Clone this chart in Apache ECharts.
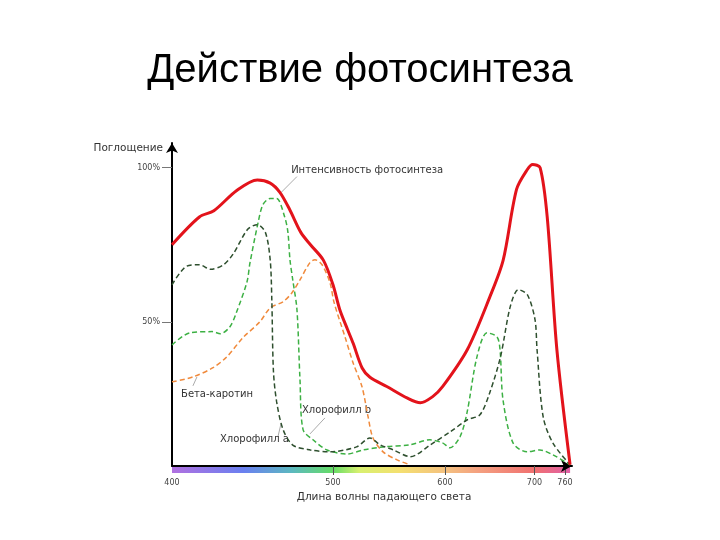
<!DOCTYPE html>
<html lang="ru">
<head>
    <meta charset="UTF-8">
    <title>Действие фотосинтеза</title>
    <script type="text/javascript" src="https://cdn.jsdelivr.net/npm/echarts@6/dist/echarts.min.js"></script>
</head>
<body style="margin: 0">
<div id="container" style="width: 720px; height: 540px"></div>
<script type="text/javascript">

    // wavelength, nm -> absorption, %
    var tickNm = [400, 500, 600, 700, 760];
    // the spectrum in the picture is not to linear scale: where each tick sits along the axis
    var tickPos = [0, 161, 273, 362.5, 393];

    var photosynthesis = [
        [400, 75], [417, 84], [426, 86], [440, 92.5], [453, 96], [461, 95], [467, 92], [473, 86.5],
        [480, 79], [486, 75], [494, 70], [500, 62], [506, 54], [513, 47.5], [518, 43], [526, 35],
        [533, 32], [548, 29], [566, 25.3], [578, 23.7], [589, 25.7], [598, 29], [625, 41], [650, 58],
        [665, 70], [680, 93], [692, 99.4], [698, 101], [711, 100], [725, 84], [744, 41], [770, 3.6]
    ];
    var chlorophyllA = [
        [400, 62], [409, 68], [417, 68.5], [424, 67], [432, 68.5], [438, 72], [447, 80], [453, 81.5],
        [458, 79], [461, 70], [462, 57], [463, 34], [465, 24], [469, 15], [475, 10], [486, 8.4],
        [498, 7.8], [521, 9.4], [533, 12.3], [542, 10.1], [554, 8.4], [569, 6.2], [587, 10.1],
        [606, 14.3], [625, 18.2], [639, 19.8], [650, 27], [662, 38.6], [673, 55], [682, 60.4],
        [692, 58.8], [701, 50.7], [705, 41], [717, 19.2], [736, 10.7], [770, 3.6]
    ];
    var chlorophyllB = [
        [400, 42.5], [411, 46.4], [425, 46.8], [430, 46.1], [436, 48.4], [440, 53], [446.6, 63],
        [448.4, 69], [453.4, 82], [456.5, 88], [461, 90], [465, 90], [470, 84], [472, 79], [473.3, 70],
        [475, 63.6], [477.6, 54], [479.5, 31.2], [481.4, 15], [487.6, 11.7], [496.3, 8.4], [512.5, 7.1],
        [526.8, 8.4], [544.7, 9.4], [568.8, 10.1], [586.6, 11.7], [597.8, 10.7], [605.6, 9.1],
        [616.8, 12.7], [624.6, 20.5], [635.7, 38.6], [646.9, 46.4], [658.1, 45.1], [661.5, 40.9],
        [664.8, 24.7], [676, 10.7], [691.6, 7.8], [710.6, 8.4], [736.4, 6.8], [770, 3.6]
    ];
    var betaCarotene = [
        [400, 30.5], [413, 32.1], [425.5, 35.1], [434, 38.6], [444, 44.8], [454.6, 50], [461, 54.5],
        [469, 56.5], [474.5, 59.4], [479.5, 63.6], [485.7, 69.2], [488.8, 70.1], [493.2, 68.5],
        [498.1, 62.7], [501, 56.2], [510.7, 45.1], [517.9, 36.7], [525.9, 28.9], [531.3, 19.2],
        [535.7, 12.3], [544.7, 7.8], [557.2, 5.2], [568.8, 3.6]
    ];

    // curve captions: text anchor and leader line, in nm / %
    var notes = [
        {text: 'Интенсивность фотосинтеза', at: [474, 99], from: [477.6, 97.1], to: [467.7, 91.9]},
        {text: 'Бета-каротин', at: [405.6, 26.3], from: [413, 29.2], to: [415.5, 32.1]},
        {text: 'Хлорофилл b', at: [480.7, 21.1], from: [495, 18.8], to: [485.7, 13.6]},
        {text: 'Хлорофилл a', at: [429.8, 11.7], from: [465.8, 12.7], to: [467.7, 16.9]}
    ];

    var spectrumColors = [
        [0, '#b070e0'], [0.18, '#6a80f0'], [0.30, '#5cb8c0'], [0.405, '#66dd66'], [0.47, '#d8f070'],
        [0.57, '#f4e070'], [0.69, '#f4c080'], [0.77, '#f4a080'], [0.91, '#f07070'], [1, '#e060a8']
    ];

    function pos(nm) {
        var i = 1;
        while (i < tickNm.length - 1 && nm > tickNm[i]) i++;
        return tickPos[i - 1] + (nm - tickNm[i - 1]) * (tickPos[i] - tickPos[i - 1]) / (tickNm[i] - tickNm[i - 1]);
    }

    function toAxis(arr) {
        return arr.map(function (d) {
            return [pos(d[0]), d[1]];
        });
    }

    var font = 'DejaVu Sans';
    var dashed = [5, 3];

    var dom = document.getElementById('container');
    var myChart = echarts.init(dom);

    var option = {
        animation: false,
        title: {
            text: 'Действие фотосинтеза',
            left: 'center',
            top: 46,
            textStyle: {fontFamily: 'Liberation Sans', fontSize: 40, fontWeight: 'normal', color: '#000'}
        },
        grid: {left: 172, right: 148, top: 143, bottom: 74},
        xAxis: {
            type: 'value',
            min: 0,
            max: 400,
            name: 'Длина волны падающего света',
            nameLocation: 'middle',
            nameGap: 15,
            nameTextStyle: {fontFamily: font, fontSize: 10.5, color: '#333', padding: [0, 0, 0, 24]},
            axisLine: {
                lineStyle: {color: '#000', width: 2},
                symbol: ['none', 'arrow'],
                symbolSize: [9, 11]
            },
            axisTick: {
                customValues: tickNm.slice(1).map(pos),
                length: 9,
                lineStyle: {color: '#555', width: 1}
            },
            axisLabel: {
                customValues: tickNm.map(pos),
                formatter: function (v) {
                    for (var i = 0; i < tickPos.length; i++) {
                        if (Math.abs(tickPos[i] - v) < 0.5) return tickNm[i];
                    }
                    return '';
                },
                margin: 13,
                fontFamily: font,
                fontSize: 8,
                color: '#444'
            },
            splitLine: {show: false}
        },
        yAxis: {
            type: 'value',
            min: 3.2,
            max: 108,
            name: 'Поглощение',
            nameLocation: 'end',
            nameGap: -5,
            nameTextStyle: {
                fontFamily: font, fontSize: 10.5, color: '#333',
                align: 'right', verticalAlign: 'middle', padding: [0, 9, 0, 0]
            },
            axisLine: {
                show: true,
                lineStyle: {color: '#000', width: 2},
                symbol: ['none', 'arrow'],
                symbolSize: [9, 10]
            },
            axisTick: {
                show: true,
                customValues: [50, 100],
                length: 10,
                lineStyle: {color: '#777', width: 1}
            },
            axisLabel: {
                customValues: [50, 100],
                formatter: '{value}%',
                margin: 12,
                fontFamily: font,
                fontSize: 8,
                color: '#444'
            },
            splitLine: {show: false}
        },
        series: [
            {
                name: 'Бета-каротин', type: 'line', data: toAxis(betaCarotene), smooth: 0.3,
                symbol: 'none', lineStyle: {color: '#f08a3c', width: 1.5, type: dashed}
            },
            {
                name: 'Хлорофилл b', type: 'line', data: toAxis(chlorophyllB), smooth: 0.3,
                symbol: 'none', lineStyle: {color: '#3cb043', width: 1.5, type: dashed}
            },
            {
                name: 'Хлорофилл a', type: 'line', data: toAxis(chlorophyllA), smooth: 0.3,
                symbol: 'none', lineStyle: {color: '#2e4f2e', width: 1.5, type: dashed}
            },
            {
                name: 'Интенсивность фотосинтеза', type: 'line', data: toAxis(photosynthesis), smooth: 0.3,
                symbol: 'none', lineStyle: {color: '#e3131b', width: 3}
            }
        ]
    };

    myChart.setOption(option);

    // spectrum strip under the x axis, and curve captions
    function px(d) {
        return myChart.convertToPixel({gridIndex: 0}, [pos(d[0]), d[1]]);
    }

    var x0 = px([400, 3.2]);
    var x1 = px([770, 3.2]);
    var graphic = [{
        type: 'rect',
        z: -1,
        shape: {x: x0[0], y: x0[1] + 1, width: x1[0] - x0[0], height: 6},
        style: {
            fill: new echarts.graphic.LinearGradient(0, 0, 1, 0, spectrumColors.map(function (c) {
                return {offset: c[0], color: c[1]};
            }))
        }
    }];
    notes.forEach(function (n) {
        var a = px(n.at), f = px(n.from), t = px(n.to);
        graphic.push({
            type: 'line',
            shape: {x1: f[0], y1: f[1], x2: t[0], y2: t[1]},
            style: {stroke: '#aaa', lineWidth: 1}
        });
        graphic.push({
            type: 'text',
            x: a[0],
            y: a[1],
            style: {text: n.text, fill: '#333', font: '10px "DejaVu Sans"', verticalAlign: 'middle'}
        });
    });
    myChart.setOption({graphic: graphic});

</script>
</body>
</html>
